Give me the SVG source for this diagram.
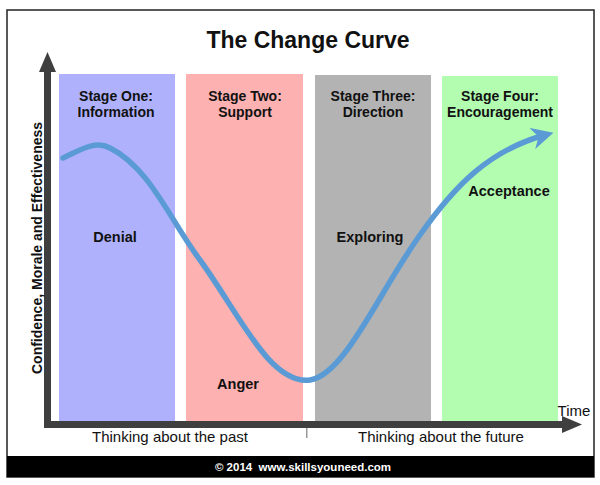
<svg xmlns="http://www.w3.org/2000/svg" width="600" height="485" viewBox="0 0 600 485">
<style>
text{font-family:"Liberation Sans",Arial,sans-serif;fill:#111}
.st{font-size:14px;font-weight:bold;text-anchor:middle}
.lb{font-size:14.5px;font-weight:bold;text-anchor:middle}
.ax{fill:#3f3f3f}
</style>
<defs>
<marker id="cv" viewBox="0 0 10 10" refX="6" refY="5" markerWidth="4" markerHeight="4" orient="auto" markerUnits="strokeWidth">
<path d="M0,0 L10,5 L0,10 L3,5 z" fill="#5b9bd5"/>
</marker>
</defs>
<rect x="0" y="0" width="600" height="485" fill="#fff"/>
<rect x="7" y="10" width="587" height="467" fill="#fff" stroke="#222" stroke-width="1.5"/>
<rect x="7" y="456" width="587" height="21" fill="#000"/>
<text x="303" y="471" style="font-size:11.5px;font-weight:bold;fill:#fff;text-anchor:middle;white-space:pre" xml:space="preserve">© 2014  www.skillsyouneed.com</text>
<text x="308" y="48" style="font-size:23px;font-weight:bold;text-anchor:middle">The Change Curve</text>
<g id="stage1"><rect x="59" y="74" width="116" height="347" fill="#b0b1fc"/>
<text class="st" x="116" y="101">Stage One:</text><text class="st" x="116" y="117">Information</text></g>
<g id="stage2"><rect x="186" y="74" width="117" height="347" fill="#fdb1b1"/>
<text class="st" x="245" y="101">Stage Two:</text><text class="st" x="245" y="117">Support</text></g>
<g id="stage3"><rect x="315" y="75" width="116" height="346" fill="#b3b3b3"/>
<text class="st" x="373" y="101">Stage Three:</text><text class="st" x="373" y="117">Direction</text></g>
<g id="stage4"><rect x="442" y="76" width="116" height="345" fill="#b3fdb1"/>
<text class="st" x="500" y="101">Stage Four:</text><text class="st" x="500" y="117">Encouragement</text></g>
<g id="axes">
<rect x="44" y="70" width="7" height="358" class="ax"/>
<path d="M47.5,52 L56,72 L39,72 z" class="ax"/>
<rect x="44" y="421" width="522" height="7" class="ax"/>
<path d="M582,424.5 L562,416 L562,433 z" class="ax"/>
<rect x="306" y="428" width="1.5" height="10" fill="#999"/>
</g>
<g id="connectors">
<path d="M63,158 C80,150 95,140 110,148 C150,168 170,220 200,260 C240,315 270,385 310,380 C345,375 380,290 420,235 C455,185 490,150 545,135" fill="none" stroke="#5b9bd5" stroke-width="5.5" stroke-linecap="round" marker-end="url(#cv)"/>
</g>
<text class="lb" x="115" y="242">Denial</text>
<text class="lb" x="238" y="389">Anger</text>
<text class="lb" x="370" y="242">Exploring</text>
<text class="lb" x="509" y="196">Acceptance</text>
<text x="574" y="416" style="font-size:15px;text-anchor:middle">Time</text>
<text x="170" y="442" style="font-size:15px;text-anchor:middle">Thinking about the past</text>
<text x="441" y="442" style="font-size:15px;text-anchor:middle">Thinking about the future</text>
<text transform="translate(42,248) rotate(-90)" style="font-size:14px;font-weight:bold;text-anchor:middle">Confidence, Morale and Effectiveness</text>
</svg>
